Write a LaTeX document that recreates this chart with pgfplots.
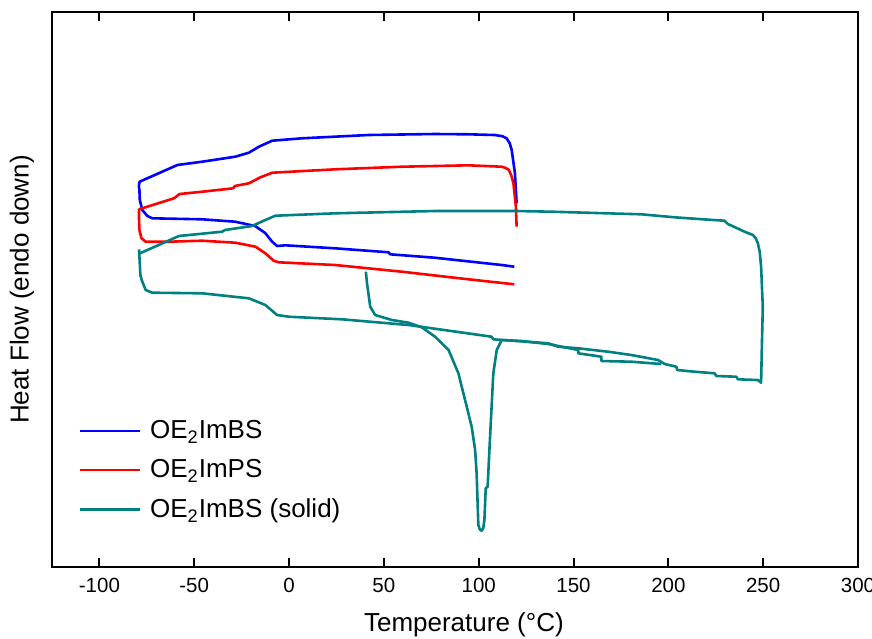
\documentclass[border=0pt]{standalone}
\usepackage{fontspec}
\setmainfont{Liberation Sans}
\usepackage{pgfplots}
\pgfplotsset{compat=1.18}
\definecolor{cblue}{RGB}{0,0,255}
\definecolor{cred}{RGB}{255,0,0}
\definecolor{cteal}{RGB}{0,128,128}
\begin{document}
\begin{tikzpicture}
\begin{axis}[
  scale only axis,
  width=403pt, height=277.5pt,
  xmin=-125, xmax=300,
  ymin=0, ymax=555,
  xtick={-100,-50,0,50,100,150,200,250,300},
  ytick=\empty,
  minor xtick={},
  tick align=inside,
  xtick pos=both,
  xticklabel pos=bottom,
  major tick length=4.5pt,
  axis line style={line width=1pt},
  every tick/.style={line width=1pt, black},
  /pgf/number format/assume math mode=true,
  ticklabel style={font=\fontsize{10.25}{12}\selectfont},
  xticklabel style={yshift=-2pt},
  xlabel={Temperature (°C)},
  ylabel={Heat Flow (endo down)},
  label style={font=\fontsize{13}{15}\selectfont},
  x label style={at={(axis description cs:0.511,-0.1045)}, anchor=center},
  y label style={at={(axis description cs:-0.0372,0.5)}, anchor=center},
  legend style={draw=none, fill=none, at={(axis description cs:0.0325,0.272)}, anchor=north west,
    font=\fontsize{13}{15}\selectfont, row sep=5pt, inner sep=0pt},
  legend cell align=left,
  legend image code/.code={\draw[#1, line width=1.25pt] (0pt,0pt) -- (30pt,0pt); \path (32.5pt,0pt);},
  every axis plot/.append style={line width=1.3pt, line join=round},
]
\coordinate (bl) at (rel axis cs:0,0);
\coordinate (tr) at (rel axis cs:1,1);
% OE2ImBS
\addplot[cblue, mark=none] coordinates {
(118.8,300.3) (112.1,302) (76.8,309.3) (53.3,312.7) (52.5,314.7) (24.2,318.7)
(-1.9,321.7) (-6.3,321) (-8.9,325.3) (-12.6,334) (-17.9,341) (-28.4,345.3)
(-45.8,347.7) (-72.1,348.7) (-74.7,351) (-77.4,357) (-78.7,367) (-78.9,377)
(-79.2,381) (-78.8,385.3)
(-58.9,402) (-45.8,405.3) (-28.4,410.3) (-21.2,414.3) (-15.9,420.3) (-8.9,426.3)
(6.8,428.7) (41.9,432) (76.8,433) (94.6,432.7) (108.4,432) (112.5,430.8) (114.7,428.7)
(116.3,424) (117.4,417) (119.1,393.7) (120,363.7)
};
\addlegendentry{OE\textsubscript{2}ImBS}
% OE2ImPS
\addplot[cred, mark=none] coordinates {
(118.8,282.7) (94.6,287.7) (59.5,295.3) (24.4,302) (-5.4,304.7) (-8.1,306.3)
(-12.5,313.7) (-17.7,320.3) (-28.3,324.3) (-45.8,326.3) (-63.3,325.3) (-75.6,325.3)
(-77.9,329) (-78.9,337) (-79.1,347) (-79.1,357.7)
(-60.7,368.7) (-57.7,373) (-45.8,375.3) (-29.5,378.7) (-28.6,381) (-21.2,383.7)
(-15.1,389.7) (-8.9,394.3) (24.4,397.7) (59.5,400.3) (94.6,401.7) (112.1,400.3)
(114.3,399) (115.9,397) (117.3,391) (118.3,383.7) (119.6,360.3) (120,340.3)
};
\addlegendentry{OE\textsubscript{2}ImPS}
% OE2ImBS (solid) main loop
\addplot[cteal, mark=none] coordinates {
(-79.1,317.7) (-78.4,292) (-77.7,287) (-75.6,277) (-72.1,274.3) (-45.8,273.7)
(-21.2,268.7) (-12.5,262) (-6.3,252) (-0.2,250.3) (27.9,247.7) (63,242)
(106.8,230.3) (107.7,227.7) (136.7,223.7) (141.9,220.3) (152.5,218.7) (168.3,215.3)
(180.5,212) (194.6,207) (198.1,203) (204.2,200.3) (204.7,197) (213.8,195.3)
(224.4,193.7) (225.3,191) (235.8,190.3) (236.7,187.7) (247.2,187) (248.9,184.3)
(249.3,220.3) (249.8,260.3) (248.9,300.3) (248.2,315) (247.2,323.7) (246,329) (244.6,332) (240.2,335.3)
(231.4,343) (229.6,346.3) (218.3,347.7) (203.3,349.7) (185.8,352.7) (138.4,355.3)
(120,356) (77,356) (24.4,353.7) (-7.2,351.3) (-12.5,347) (-19.5,341)
(-33.8,337) (-35.3,335.3) (-58.1,331) (-78.6,313.7)
};
\addlegendentry{OE\textsubscript{2}ImBS (solid)}
% OE2ImBS (solid) melting run
\addplot[cteal, mark=none, forget plot] coordinates {
(40.5,295.3) (41.1,283.7) (42.8,260.3) (45.4,252) (54.2,247) (63,244.3)
(70,239.7) (77,230.3) (84.1,217) (89.3,193.7) (96.3,140.3) (98.1,117)
(98.9,93.7) (99.8,42) (100.6,37.5) (101.6,36.3) (102.4,39) (103,47) (103.7,78.7) (104.7,80.3)
(105.9,127) (107.7,193.7) (109.5,217) (112.1,227) (122.6,226) (136.7,223)
(152.5,217) (152.5,213.7) (164.7,210.3) (164.7,206) (180.5,205.3) (196.3,203)
};
\end{axis}
\pgfresetboundingbox
\path[use as bounding box] ([shift={(-26pt,-35.5pt)}]bl) rectangle ([shift={(7pt,6pt)}]tr);
\end{tikzpicture}
\end{document}
